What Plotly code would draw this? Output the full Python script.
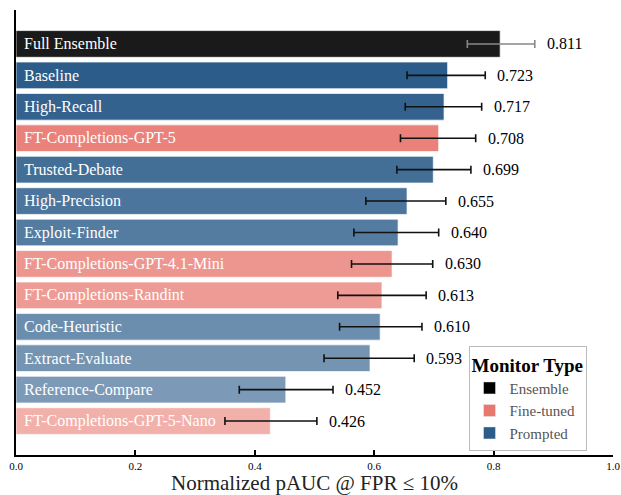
import plotly.graph_objects as go

# Monitors, ordered from best to worst score
monitors = [
    "Full Ensemble", "Baseline", "High-Recall", "FT-Completions-GPT-5",
    "Trusted-Debate", "High-Precision", "Exploit-Finder",
    "FT-Completions-GPT-4.1-Mini", "FT-Completions-Randint", "Code-Heuristic",
    "Extract-Evaluate", "Reference-Compare", "FT-Completions-GPT-5-Nano",
]
monitor_type = [
    "Ensemble", "Prompted", "Prompted", "Fine-tuned",
    "Prompted", "Prompted", "Prompted",
    "Fine-tuned", "Fine-tuned", "Prompted",
    "Prompted", "Prompted", "Fine-tuned",
]
pauc = [0.811, 0.723, 0.717, 0.708, 0.699, 0.655, 0.640,
        0.630, 0.613, 0.610, 0.593, 0.452, 0.426]
ci_low = [0.756, 0.655, 0.652, 0.644, 0.638, 0.586, 0.566,
          0.562, 0.539, 0.542, 0.516, 0.374, 0.350]
ci_high = [0.869, 0.786, 0.780, 0.770, 0.762, 0.720, 0.708,
           0.698, 0.687, 0.680, 0.667, 0.531, 0.504]

type_order = ["Ensemble", "Fine-tuned", "Prompted"]
type_rgb = {"Ensemble": (26, 26, 26), "Fine-tuned": (232, 119, 111), "Prompted": (43, 92, 138)}
legend_rgb = {"Ensemble": (0, 0, 0), "Fine-tuned": (232, 119, 111), "Prompted": (43, 92, 138)}
err_color = {"Ensemble": "#888888", "Fine-tuned": "#111111", "Prompted": "#111111"}

FONT = "'Liberation Serif', 'DejaVu Serif', serif"

# non-ensemble bars fade with their rank
ranked = [i for i, t in enumerate(monitor_type) if t != "Ensemble"]
n_ranked = len(ranked)


def bar_alpha(i):
    if monitor_type[i] == "Ensemble":
        return 1.0
    rank = ranked.index(i)
    return 1.0 - 0.42 * rank / (n_ranked - 1)


fig = go.Figure()
for t in type_order:
    idx = [i for i, mt in enumerate(monitor_type) if mt == t]
    r, g, b = type_rgb[t]
    colors = [f"rgba({r},{g},{b},{bar_alpha(i):.3f})" for i in idx]
    fig.add_trace(go.Bar(
        y=[monitors[i] for i in idx],
        x=[pauc[i] for i in idx],
        orientation="h",
        width=0.85,
        marker=dict(color=colors, line=dict(color="rgba(255,255,255,0.7)", width=1)),
        error_x=dict(
            type="data", symmetric=False,
            array=[ci_high[i] - pauc[i] for i in idx],
            arrayminus=[pauc[i] - ci_low[i] for i in idx],
            color=err_color[t], thickness=1.6, width=4,
        ),
        name=t,
        showlegend=False,
        hoverinfo="skip",
    ))
    # legend swatch
    lr, lg, lb = legend_rgb[t]
    fig.add_trace(go.Bar(
        y=[None], x=[None], orientation="h", name=t,
        marker=dict(color=f"rgb({lr},{lg},{lb})"),
        showlegend=True,
    ))

annotations = []
for name, v, hi in zip(monitors, pauc, ci_high):
    annotations.append(dict(
        x=0, y=name, xref="x", yref="y", text=name, showarrow=False,
        xanchor="left", xshift=6, yanchor="middle",
        font=dict(family=FONT, size=16, color="white"),
    ))
    annotations.append(dict(
        x=hi, y=name, xref="x", yref="y", text=f"{v:.3f}", showarrow=False,
        xanchor="left", xshift=10, yanchor="middle",
        font=dict(family=FONT, size=16, color="black"),
    ))

fig.update_layout(
    width=621, height=495,
    margin=dict(l=16, r=8, t=10, b=40),
    paper_bgcolor="white", plot_bgcolor="white",
    barmode="overlay",
    bargap=0.15,
    font=dict(family=FONT, color="black"),
    annotations=annotations,
    legend=dict(
        title=dict(text="<b>Monitor Type</b>", font=dict(family=FONT, size=19, color="black")),
        x=0.758, y=0.245, xanchor="left", yanchor="top",
        bgcolor="white", bordercolor="#bbbbbb", borderwidth=1,
        font=dict(family=FONT, size=15, color="#555555"),
        traceorder="normal",
        tracegroupgap=2,
    ),
    xaxis=dict(
        range=[0, 1.0], tickvals=[0, 0.2, 0.4, 0.6, 0.8, 1.0], tickformat=".1f",
        showgrid=False, zeroline=False, automargin=False,
        showline=True, linecolor="black", linewidth=2,
        ticks="inside", ticklen=5, tickwidth=1.5, tickcolor="black",
        tickfont=dict(family=FONT, size=11, color="black"),
        title=dict(text="Normalized pAUC @ FPR ≤ 10%", font=dict(family=FONT, size=21, color="#222222"), standoff=7),
    ),
    yaxis=dict(
        type="category", categoryorder="array", categoryarray=monitors,
        range=[len(monitors) - 1 + 1.08, -1.08],
        showticklabels=False, ticks="", showgrid=False, zeroline=False,
        showline=True, linecolor="black", linewidth=2, automargin=False,
    ),
)

fig.write_html("out.html")
